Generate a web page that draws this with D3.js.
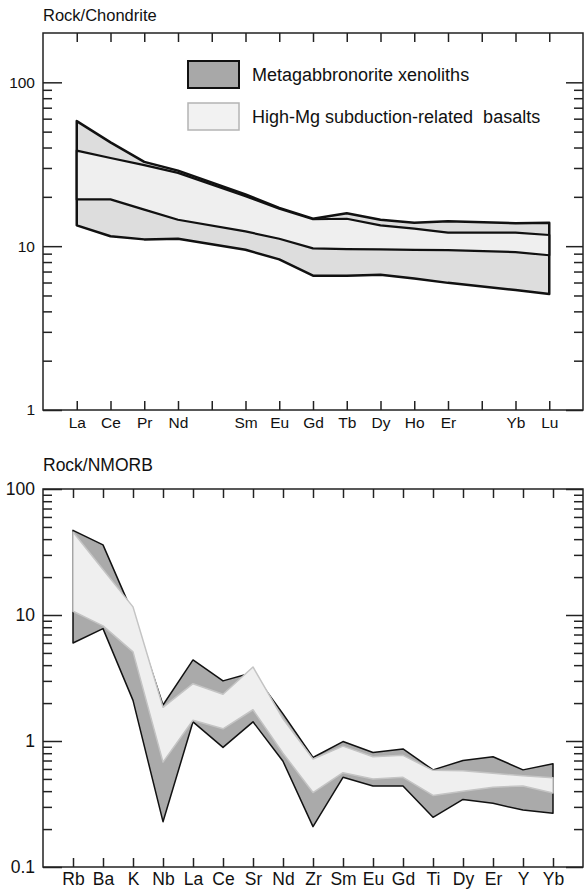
<!DOCTYPE html>
<html>
<head>
<meta charset="utf-8">
<script src="https://cdn.jsdelivr.net/npm/d3@7"></script>
<style>
	body { margin: 0; background: #fff; }
	svg text { font-family: "Liberation Sans", Arial, sans-serif; fill: #111; }
</style>
</head>
<body>
<script>
// REE diagram (chondrite normalised)
let reeTicks = ["La", "Ce", "Pr", "Nd", "Pm", "Sm", "Eu", "Gd", "Tb", "Dy", "Ho", "Er", "Tm", "Yb", "Lu"];
let reeTickLabels = ["La", "Ce", "Pr", "Nd", "", "Sm", "Eu", "Gd", "Tb", "Dy", "Ho", "Er", "", "Yb", "Lu"];
let reeElements = ["La", "Ce", "Pr", "Nd", "Sm", "Eu", "Gd", "Tb", "Dy", "Ho", "Er", "Yb", "Lu"];
let xenolithMaxREE = [58, 43, 32.7, 28.9, 20.7, 17.1, 14.7, 15.9, 14.5, 13.9, 14.2, 13.8, 13.9];
let xenolithMinREE = [13.4, 11.5, 11.0, 11.1, 9.5, 8.3, 6.6, 6.6, 6.7, 6.35, 5.97, 5.4, 5.1];
let basaltMaxREE = [38.3, 34.5, 31.2, 28, 20.2, 16.9, 14.6, 14.7, 13.4, 12.8, 12.1, 12.1, 11.7];
let basaltMinREE = [19.3, 19.3, 16.7, 14.5, 12.3, 11.1, 9.7, 9.6, 9.55, 9.5, 9.45, 9.2, 8.8];

// spider diagram (NMORB normalised)
let spiderElements = ["Rb", "Ba", "K", "Nb", "La", "Ce", "Sr", "Nd", "Zr", "Sm", "Eu", "Gd", "Ti", "Dy", "Er", "Y", "Yb"];
let xenolithMaxSpider = [47, 36, 10.2, 1.93, 4.4, 3.0, 3.5, 1.64, 0.74, 0.99, 0.81, 0.865, 0.59, 0.70, 0.75, 0.59, 0.66];
let xenolithMinSpider = [6.0, 7.8, 2.1, 0.229, 1.42, 0.89, 1.42, 0.69, 0.209, 0.515, 0.44, 0.44, 0.248, 0.344, 0.32, 0.283, 0.267];
let basaltMaxSpider = [45.5, 23, 11.6, 1.85, 2.85, 2.35, 3.87, 1.5, 0.72, 0.91, 0.75, 0.77, 0.585, 0.58, 0.555, 0.53, 0.51];
let basaltMinSpider = [10.7, 8.2, 5.1, 0.68, 1.46, 1.25, 1.77, 0.8, 0.39, 0.56, 0.50, 0.515, 0.37, 0.40, 0.43, 0.44, 0.386];

let reeYTicks = [1, 10, 100];
let spiderYTicks = [0.1, 1, 10, 100];

let legendLabels = ["Metagabbronorite xenoliths", "High-Mg subduction-related  basalts"];

let svg = d3.select("body")
			.append("svg")
			.attr("width", 584)
			.attr("height", 889);

// minor ticks 2..9 of each decade inside the domain
function minorTicks(domain) {
	let out = [];
	for (let dec = domain[0]; dec < domain[1]; dec *= 10) {
		for (let m = 2; m <= 9; m++) {
			let v = +(dec * m).toPrecision(3);
			if (v < domain[1]) out.push(v);
		}
	}
	return out;
}

function drawPanel(cfg) {
	let g = svg.append("g");

	let x = d3.scalePoint().domain(cfg.ticks).range([cfg.left, cfg.right]).padding(1);
	let y = d3.scaleLog().domain(cfg.yDomain).range([cfg.bottom, cfg.top]);

	// bands
	cfg.bands.forEach(function(b) {
		let rows = cfg.elements.map(function(el, i) {
			return {el: el, hi: b.hi[i], lo: b.lo[i]};
		});
		let area = d3.area()
			.x(function(d) { return x(d.el); })
			.y0(function(d) { return y(d.lo); })
			.y1(function(d) { return y(d.hi); });
		g.append("path").datum(rows)
			.attr("d", area)
			.style("fill", b.fill)
			.style("stroke", b.stroke)
			.style("stroke-width", b.width)
			.style("stroke-linejoin", "round");
	});

	// x axes (ticks pointing inwards)
	let labels = cfg.tickLabels || cfg.ticks;
	g.append("g")
		.attr("transform", "translate(0," + cfg.bottom + ")")
		.call(d3.axisBottom(x).tickSizeInner(-9).tickSizeOuter(0).tickPadding(cfg.xPad)
			.tickFormat(function(d, i) { return labels[i]; }))
		.call(function(a) { a.select(".domain").remove(); });
	g.append("g")
		.attr("transform", "translate(0," + cfg.top + ")")
		.call(d3.axisTop(x).tickSizeInner(-9).tickSizeOuter(0).tickFormat(""))
		.call(function(a) { a.select(".domain").remove(); });

	// y axes, major + minor on both sides
	let minors = minorTicks(cfg.yDomain);
	g.append("g")
		.attr("transform", "translate(" + cfg.left + ",0)")
		.call(d3.axisLeft(y).tickValues(cfg.yTicks).tickSizeInner(-19).tickSizeOuter(0).tickPadding(8)
			.tickFormat(function(d) { return String(d); }))
		.call(function(a) { a.select(".domain").remove(); });
	g.append("g")
		.attr("transform", "translate(" + cfg.left + ",0)")
		.call(d3.axisLeft(y).tickValues(minors).tickSizeInner(-9).tickSizeOuter(0).tickFormat(""))
		.call(function(a) { a.select(".domain").remove(); });
	g.append("g")
		.attr("transform", "translate(" + cfg.right + ",0)")
		.call(d3.axisRight(y).tickValues(cfg.yTicks).tickSizeInner(-17).tickSizeOuter(0).tickFormat(""))
		.call(function(a) { a.select(".domain").remove(); });
	g.append("g")
		.attr("transform", "translate(" + cfg.right + ",0)")
		.call(d3.axisRight(y).tickValues(minors).tickSizeInner(-9).tickSizeOuter(0).tickFormat(""))
		.call(function(a) { a.select(".domain").remove(); });

	g.selectAll(".tick line").style("stroke", "#222").style("stroke-width", 1.5);
	g.selectAll(".tick text")
		.style("font-family", "Liberation Sans, Arial, sans-serif")
		.style("font-size", cfg.fontSize + "px")
		.style("fill", "#111");

	// frame
	g.append("rect")
		.attr("x", cfg.left).attr("y", cfg.top)
		.attr("width", cfg.right - cfg.left).attr("height", cfg.bottom - cfg.top)
		.style("fill", "none").style("stroke", "#222").style("stroke-width", 1.5);

	// y label at top left
	g.append("text")
		.attr("x", cfg.left).attr("y", cfg.titleY)
		.style("font-size", cfg.titleSize + "px")
		.text(cfg.title);

	return g;
}

let reePanel = drawPanel({
	ticks: reeTicks, tickLabels: reeTickLabels, elements: reeElements,
	left: 43, right: 583, top: 33, bottom: 410,
	yDomain: [1, 200], yTicks: reeYTicks,
	xPad: 7, fontSize: 15.5,
	title: "Rock/Chondrite", titleY: 21, titleSize: 16.5,
	bands: [
		{hi: xenolithMaxREE, lo: xenolithMinREE, fill: "#dddddd", stroke: "#111", width: 2.5},
		{hi: basaltMaxREE, lo: basaltMinREE, fill: "#efefef", stroke: "#111", width: 2.2}
	]
});

drawPanel({
	ticks: spiderElements, elements: spiderElements,
	left: 43, right: 583, top: 489, bottom: 867,
	yDomain: [0.1, 100], yTicks: spiderYTicks,
	xPad: 6, fontSize: 17.5,
	title: "Rock/NMORB", titleY: 471, titleSize: 17.5,
	bands: [
		{hi: xenolithMaxSpider, lo: xenolithMinSpider, fill: "#aaaaaa", stroke: "#111", width: 1.5},
		{hi: basaltMaxSpider, lo: basaltMinSpider, fill: "#efefef", stroke: "#c4c4c4", width: 1.5}
	]
});

// legend of the top panel
let legendStyles = [
	{fill: "#a8a8a8", stroke: "#111", width: 2},
	{fill: "#f2f2f2", stroke: "#b4b4b4", width: 1.5}
];
let legendY = [61, 103];
legendLabels.forEach(function(label, i) {
	reePanel.append("rect")
		.attr("x", 188).attr("y", legendY[i])
		.attr("width", 51).attr("height", 27)
		.style("fill", legendStyles[i].fill)
		.style("stroke", legendStyles[i].stroke)
		.style("stroke-width", legendStyles[i].width);
	reePanel.append("text")
		.attr("x", 252).attr("y", legendY[i] + 13.5)
		.attr("dy", "0.35em")
		.style("font-size", "18px")
		.style("white-space", "pre")
		.text(label);
});
</script>
</body>
</html>
